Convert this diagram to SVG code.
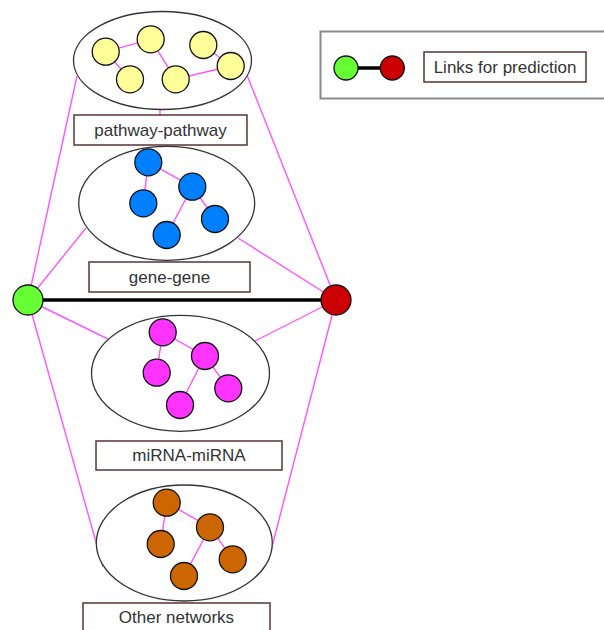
<svg xmlns="http://www.w3.org/2000/svg" width="604" height="630" viewBox="0 0 604 630">
<style>
.bg{fill:#fff}
.link{stroke:#ff55ff;stroke-width:1.4;fill:none}
.ell{fill:#fff;stroke:#333;stroke-width:1.3}
.lbl{fill:#fff;stroke:#5a3434;stroke-width:1.5}
.t{font-family:"Liberation Sans",Arial,sans-serif;font-size:17px;fill:#333;text-anchor:middle;dominant-baseline:central}
.n{stroke:#111;stroke-width:1.3}
.y{fill:#ffff99}.b{fill:#007fff}.m{fill:#ff33ff}.o{fill:#cc6600}.g{fill:#66ff33}.r{fill:#cc0000}
</style>
<rect class="bg" width="604" height="630"/>
<g id="connectors">
<line class="link" x1="28" y1="300" x2="77" y2="76"/>
<line class="link" x1="336" y1="300" x2="247" y2="75"/>
<line class="link" x1="160" y1="110" x2="160" y2="115"/>
<line class="link" x1="28" y1="300" x2="86" y2="228"/>
<line class="link" x1="336" y1="300" x2="238" y2="238"/>
<line class="link" x1="28" y1="300" x2="108" y2="339"/>
<line class="link" x1="336" y1="300" x2="255" y2="341"/>
<line class="link" x1="28" y1="300" x2="103" y2="567"/>
<line class="link" x1="336" y1="300" x2="268" y2="562"/>
<line stroke="#000" stroke-width="3.5" x1="28" y1="300" x2="336" y2="300"/>
</g>
<g id="pathway-network">
<ellipse class="ell" cx="162.5" cy="60.5" rx="89" ry="49"/>
<line class="link" x1="105.7" y1="51.7" x2="150.7" y2="39.3"/>
<line class="link" x1="105.7" y1="51.7" x2="130" y2="79.3"/>
<line class="link" x1="150.7" y1="39.3" x2="175.7" y2="79.3"/>
<line class="link" x1="175.7" y1="79.3" x2="230.7" y2="66"/>
<line class="link" x1="203.3" y1="45" x2="230.7" y2="66"/>
<circle class="n y" cx="105.7" cy="51.7" r="13.5"/>
<circle class="n y" cx="150.7" cy="39.3" r="13.5"/>
<circle class="n y" cx="130" cy="79.3" r="13.5"/>
<circle class="n y" cx="175.7" cy="79.3" r="13.5"/>
<circle class="n y" cx="203.3" cy="45" r="13.5"/>
<circle class="n y" cx="230.7" cy="66" r="13.5"/>
</g>
<g id="pathway-label">
<rect class="lbl" x="74" y="115" width="173" height="30"/>
<text class="t" x="160.5" y="130">pathway-pathway</text>
</g>
<g id="gene-network">
<ellipse class="ell" cx="166.7" cy="203.3" rx="88" ry="57"/>
<line class="link" x1="148.3" y1="162.3" x2="143.3" y2="203.3"/>
<line class="link" x1="148.3" y1="162.3" x2="192.3" y2="186.7"/>
<line class="link" x1="192.3" y1="186.7" x2="166.7" y2="235"/>
<line class="link" x1="192.3" y1="186.7" x2="215" y2="219"/>
<circle class="n b" cx="148.3" cy="162.3" r="13.5"/>
<circle class="n b" cx="192.3" cy="186.7" r="13.5"/>
<circle class="n b" cx="143.3" cy="203.3" r="13.5"/>
<circle class="n b" cx="215" cy="219" r="13.5"/>
<circle class="n b" cx="166.7" cy="235" r="13.5"/>
</g>
<g id="gene-label">
<rect class="lbl" x="89" y="262" width="161" height="30"/>
<text class="t" x="169.5" y="277">gene-gene</text>
</g>
<g id="mirna-network">
<ellipse class="ell" cx="180.5" cy="373.3" rx="89" ry="58"/>
<line class="link" x1="162.7" y1="332.3" x2="156.7" y2="372.7"/>
<line class="link" x1="162.7" y1="332.3" x2="205" y2="356"/>
<line class="link" x1="205" y1="356" x2="180" y2="405"/>
<line class="link" x1="205" y1="356" x2="228.3" y2="388.3"/>
<circle class="n m" cx="162.7" cy="332.3" r="13.5"/>
<circle class="n m" cx="205" cy="356" r="13.5"/>
<circle class="n m" cx="156.7" cy="372.7" r="13.5"/>
<circle class="n m" cx="228.3" cy="388.3" r="13.5"/>
<circle class="n m" cx="180" cy="405" r="13.5"/>
</g>
<g id="mirna-label">
<rect class="lbl" x="96" y="441" width="186" height="29"/>
<text class="t" x="189" y="455.5">miRNA-miRNA</text>
</g>
<g id="other-network">
<ellipse class="ell" cx="184.3" cy="543" rx="88" ry="58"/>
<line class="link" x1="166.7" y1="502.7" x2="160.7" y2="544"/>
<line class="link" x1="166.7" y1="502.7" x2="210" y2="527.3"/>
<line class="link" x1="210" y1="527.3" x2="184" y2="576"/>
<line class="link" x1="210" y1="527.3" x2="232.7" y2="559.3"/>
<circle class="n o" cx="166.7" cy="502.7" r="13.5"/>
<circle class="n o" cx="210" cy="527.3" r="13.5"/>
<circle class="n o" cx="160.7" cy="544" r="13.5"/>
<circle class="n o" cx="232.7" cy="559.3" r="13.5"/>
<circle class="n o" cx="184" cy="576" r="13.5"/>
</g>
<g id="other-label">
<rect class="lbl" x="83" y="603" width="187" height="32"/>
<text class="t" x="176.5" y="617.5">Other networks</text>
</g>
<g id="source-node">
<circle class="n g" cx="28" cy="300" r="15"/>
</g>
<g id="target-node">
<circle class="n r" cx="336" cy="300" r="15"/>
</g>
<g id="legend">
<rect x="320.5" y="31.5" width="290" height="67" fill="#fff" stroke="#8a8a8a" stroke-width="2"/>
<line stroke="#000" stroke-width="3.5" x1="346" y1="68" x2="392" y2="68"/>
<circle class="n g" cx="346" cy="68" r="12"/>
<circle class="n r" cx="392.3" cy="68" r="12"/>
<rect class="lbl" x="424" y="52" width="162" height="30"/>
<text class="t" x="505" y="67">Links for prediction</text>
</g>
</svg>
